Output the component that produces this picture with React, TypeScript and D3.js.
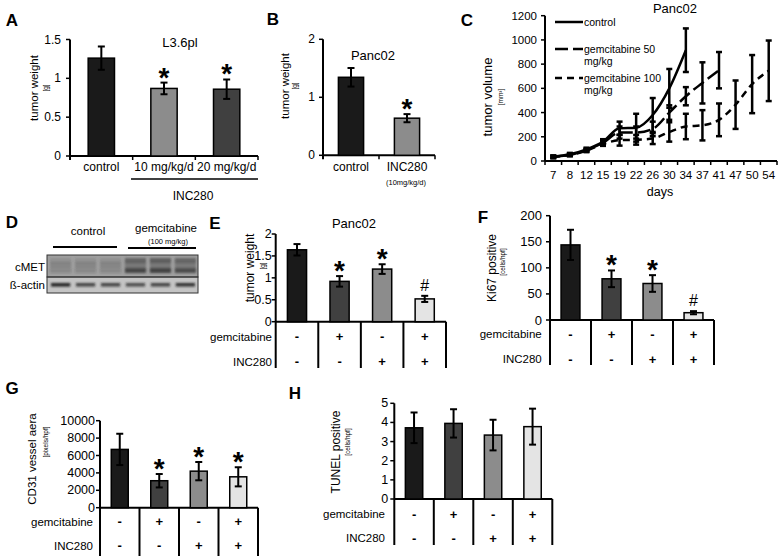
import React from "react";
import * as d3 from "d3";

const FONT = "'Liberation Sans', Arial, Helvetica, sans-serif";

// ---------- Panel A ----------
const aCategories = ["control", "10 mg/kg/d", "20 mg/kg/d"];
const aValues = [1.26, 0.87, 0.86];
const aErrors = [0.15, 0.075, 0.125];
const aMarks = ["", "*", "*"];
const aTicks = [0, 0.5, 1, 1.5];
const aColors = ["#1a1a1a", "#8c8c8c", "#404040"];

// ---------- Panel B ----------
const bCategories = ["control", "INC280"];
const bValues = [1.345, 0.64];
const bErrors = [0.16, 0.07];
const bMarks = ["", "*"];
const bTicks = [0, 1, 2];
const bColors = ["#1a1a1a", "#8c8c8c"];

// ---------- Panel C ----------
const cDays = ["7", "8", "12", "15", "19", "22", "26", "30", "34", "37", "41", "47", "50", "54"];
const cTicks = [0, 200, 400, 600, 800, 1000, 1200];
const cControl = [35, 55, 95, 160, 270, 275, 380, 600, 915];
const cControlErr = [10, 12, 15, 20, 55, 115, 140, 160, 180];
const cGem50 = [35, 50, 90, 150, 235, 235, 265, 400, 535, 645, 750];
const cGem50Err = [10, 10, 12, 15, 50, 50, 60, 60, 75, 170, 150];
const cGem100 = [33, 50, 85, 140, 172, 175, 185, 240, 285, 295, 340, 465, 635, 745];
const cGem100Err = [10, 10, 12, 15, 45, 40, 45, 80, 105, 125, 135, 200, 240, 250];
const cSeriesNames = ["control", "gemcitabine 50", "gemcitabine 100"];

// ---------- Panel D (blot lanes) ----------
const dLanes = ["c1", "c2", "c3", "g1", "g2", "g3"];
const dCmet = [0.2, 0.2, 0.2, 0.75, 0.8, 0.7];
const dActin = [0.95, 0.75, 0.75, 0.7, 0.75, 0.85];

// ---------- Treatment table (E–H) ----------
const treatGroups = ["g1", "g2", "g3", "g4"];
const gemcitabineRow = ["-", "+", "-", "+"];
const inc280Row = ["-", "-", "+", "+"];
const treatColors = ["#1a1a1a", "#404040", "#8c8c8c", "#e4e4e4"];

// E
const eValues = [1.64, 0.92, 1.2, 0.52];
const eErrors = [0.13, 0.12, 0.11, 0.07];
const eMarks = ["", "*", "*", "#"];
const eTicks = [0, 0.5, 1, 1.5, 2];
// F
const fValues = [144, 79, 70, 14];
const fErrors = [29, 16, 16, 3];
const fMarks = ["", "*", "*", "#"];
const fTicks = [0, 50, 100, 150, 200];
// G
const gValues = [6700, 3100, 4200, 3550];
const gErrors = [1800, 770, 1050, 1100];
const gMarks = ["", "*", "*", "*"];
const gTicks = [0, 2000, 4000, 6000, 8000, 10000];
// H
const hValues = [3.72, 3.95, 3.34, 3.78];
const hErrors = [0.8, 0.74, 0.8, 0.94];
const hMarks = ["", "", "", ""];
const hTicks = [0, 1, 2, 3, 4, 5];

type BarCfg = {
  x0: number; x1: number; y0: number; yTop: number; max: number;
  ticks: number[]; cats: string[]; values: number[]; errors: number[];
  colors: string[]; marks: string[]; barFrac: number; tickFont: number;
  tickGap: number; tableBottom?: number;
};

function Mark({ m, cx, top }: { m: string; cx: number; top: number }) {
  if (!m) return null;
  if (m === "*") {
    return (
      <text x={cx} y={top - 11 + 15} textAnchor="middle" fontSize={28} fontWeight="bold" fontFamily={FONT}>*</text>
    );
  }
  return (
    <text x={cx} y={top - 5} textAnchor="middle" fontSize={16} fontFamily={FONT}>{m}</text>
  );
}

function BarPanel(c: BarCfg) {
  const y = d3.scaleLinear().domain([0, c.max]).range([c.y0, c.yTop]);
  const x = d3.scaleBand<string>().domain(c.cats).range([c.x0, c.x1]);
  const bw = x.bandwidth();
  const w = bw * c.barFrac;
  const bottom = c.tableBottom ?? c.y0 + 4;
  return (
    <g>
      <line x1={c.x0} x2={c.x0} y1={c.yTop} y2={c.tableBottom ?? c.y0 + 4} stroke="#000" strokeWidth={2} />
      <line x1={c.x0} x2={c.x1} y1={c.y0} y2={c.y0} stroke="#000" strokeWidth={2} />
      {c.ticks.map((t) => (
        <g key={t}>
          <line x1={c.x0 - 4} x2={c.x0} y1={y(t)} y2={y(t)} stroke="#000" strokeWidth={1.5} />
          <text x={c.x0 - c.tickGap} y={y(t)} dominantBaseline="central" textAnchor="end" fontSize={c.tickFont} fontFamily={FONT}>{String(t)}</text>
        </g>
      ))}
      {c.cats.map((k) => (
        <line key={"s" + k} x1={x(k)! + bw} x2={x(k)! + bw} y1={c.y0} y2={bottom} stroke="#000" strokeWidth={c.tableBottom ? 2 : 1.5} />
      ))}
      {c.cats.map((k, i) => {
        const cx = x(k)! + bw / 2;
        const v = c.values[i];
        const e = c.errors[i];
        return (
          <g key={"b" + k}>
            <rect x={cx - w / 2} y={y(v)} width={w} height={c.y0 - y(v)} fill={c.colors[i]} stroke="#000" strokeWidth={1.5} />
            <line x1={cx} x2={cx} y1={y(v + e)} y2={y(v - e)} stroke="#000" strokeWidth={2} />
            <line x1={cx - 3.5} x2={cx + 3.5} y1={y(v + e)} y2={y(v + e)} stroke="#000" strokeWidth={2} />
            <line x1={cx - 3.5} x2={cx + 3.5} y1={y(v - e)} y2={y(v - e)} stroke="#000" strokeWidth={2} />
            <Mark m={c.marks[i]} cx={cx} top={y(v + e)} />
          </g>
        );
      })}
    </g>
  );
}

function TableRows({ x0, x1, labelX, rowY }: { x0: number; x1: number; labelX: number; rowY: number[] }) {
  const x = d3.scaleBand<string>().domain(treatGroups).range([x0, x1]);
  const bw = x.bandwidth();
  const rows = [gemcitabineRow, inc280Row];
  const names = ["gemcitabine", "INC280"];
  return (
    <g fontFamily={FONT}>
      {rows.map((r, ri) => (
        <g key={ri}>
          <text x={labelX} y={rowY[ri]} textAnchor="end" dominantBaseline="central" fontSize={11.5}>{names[ri]}</text>
          {treatGroups.map((g, i) => (
            <text key={g} x={x(g)! + bw / 2} y={rowY[ri]} textAnchor="middle" dominantBaseline="central" fontSize={13} fontWeight="bold">{r[i]}</text>
          ))}
        </g>
      ))}
    </g>
  );
}

function YLabel({ x, y, text, sub, subX, subY, size = 12 }: { x: number; y: number; text: string; sub: string; subX: number; subY: number; size?: number }) {
  return (
    <g fontFamily={FONT}>
      <text transform={`translate(${x},${y}) rotate(-90)`} textAnchor="middle" dominantBaseline="central" fontSize={size}>{text}</text>
      <text transform={`translate(${subX},${subY}) rotate(-90)`} textAnchor="middle" dominantBaseline="central" fontSize={6.5}>{sub}</text>
    </g>
  );
}

function Letter({ x, y, t }: { x: number; y: number; t: string }) {
  return <text x={x} y={y} textAnchor="middle" dominantBaseline="central" fontSize={17} fontWeight="bold" fontFamily={FONT}>{t}</text>;
}

function PanelC() {
  const x0 = 545, x1 = 777, y0 = 161, yTop = 15.7;
  const y = d3.scaleLinear().domain([0, 1200]).range([y0, yTop]);
  const x = d3.scaleBand<string>().domain(cDays).range([x0, x1]);
  const bw = x.bandwidth();
  const cx = (i: number) => x(cDays[i])! + bw / 2;
  const series = [
    { v: cControl, e: cControlErr, dash: undefined as string | undefined },
    { v: cGem50, e: cGem50Err, dash: "13,5" },
    { v: cGem100, e: cGem100Err, dash: "7,5" },
  ];
  const line = (vals: number[]) =>
    d3.line<number>().x((_, i) => cx(i)).y((d) => y(d)).curve(d3.curveMonotoneX)(vals) ?? "";
  const legendY = [22, 49, 78];
  return (
    <g fontFamily={FONT}>
      <text x={675} y={8} textAnchor="middle" dominantBaseline="central" fontSize={13}>Panc02</text>
      <line x1={x0} x2={x0} y1={yTop} y2={y0} stroke="#000" strokeWidth={2} />
      <line x1={x0} x2={x1} y1={y0} y2={y0} stroke="#000" strokeWidth={2} />
      {cTicks.map((t) => (
        <g key={t}>
          <line x1={x0 - 4} x2={x0} y1={y(t)} y2={y(t)} stroke="#000" strokeWidth={1.5} />
          <text x={x0 - 8} y={y(t)} textAnchor="end" dominantBaseline="central" fontSize={11.5}>{String(t)}</text>
        </g>
      ))}
      {cDays.map((d, i) => (
        <g key={d}>
          <line x1={x(d)!} x2={x(d)!} y1={y0} y2={y0 + 4} stroke="#000" strokeWidth={1.5} />
          <text x={cx(i)} y={175} textAnchor="middle" dominantBaseline="central" fontSize={11.5}>{d}</text>
        </g>
      ))}
      <line x1={x1} x2={x1} y1={y0} y2={y0 + 4} stroke="#000" strokeWidth={1.5} />
      <text x={660} y={192} textAnchor="middle" dominantBaseline="central" fontSize={12.5}>days</text>
      {series.map((s, si) => (
        <g key={si}>
          {s.v.map((v, i) => (
            <g key={i}>
              <line x1={cx(i)} x2={cx(i)} y1={y(v + s.e[i])} y2={y(Math.max(0, v - s.e[i]))} stroke="#000" strokeWidth={2.5} />
              <line x1={cx(i) - 3} x2={cx(i) + 3} y1={y(v + s.e[i])} y2={y(v + s.e[i])} stroke="#000" strokeWidth={2.5} />
              <line x1={cx(i) - 3} x2={cx(i) + 3} y1={y(Math.max(0, v - s.e[i]))} y2={y(Math.max(0, v - s.e[i]))} stroke="#000" strokeWidth={2.5} />
            </g>
          ))}
          <path d={line(s.v)} fill="none" stroke="#000" strokeWidth={2.5} strokeDasharray={s.dash} />
        </g>
      ))}
      {series.map((s, si) => (
        <line key={"l" + si} x1={555} x2={583} y1={legendY[si]} y2={legendY[si]} stroke="#000" strokeWidth={2.5} strokeDasharray={s.dash} />
      ))}
      <text x={584} y={legendY[0]} dominantBaseline="central" fontSize={10.5}>{cSeriesNames[0]}</text>
      <text x={584} y={legendY[1]} dominantBaseline="central" fontSize={10.5}>{cSeriesNames[1]}</text>
      <text x={584} y={legendY[1] + 12} dominantBaseline="central" fontSize={10.5}>mg/kg</text>
      <text x={584} y={legendY[2]} dominantBaseline="central" fontSize={10.5}>{cSeriesNames[2]}</text>
      <text x={584} y={legendY[2] + 12} dominantBaseline="central" fontSize={10.5}>mg/kg</text>
      <YLabel x={487} y={97} text="tumor volume" sub="[mm³]" subX={500} subY={97} size={13} />
    </g>
  );
}

function PanelD() {
  const lx = d3.scaleBand<string>().domain(dLanes).range([50, 196]).paddingInner(0.15);
  const bw = lx.bandwidth();
  return (
    <g fontFamily={FONT}>
      <defs>
        <filter id="blur1" x="-20%" y="-50%" width="140%" height="200%">
          <feGaussianBlur stdDeviation="1.2" />
        </filter>
      </defs>
      <text x={88} y={231} textAnchor="middle" dominantBaseline="central" fontSize={11.5}>control</text>
      <line x1={53} x2={117} y1={247} y2={247} stroke="#000" strokeWidth={2} />
      <text x={166} y={228} textAnchor="middle" dominantBaseline="central" fontSize={11.5}>gemcitabine</text>
      <text x={168} y={241} textAnchor="middle" dominantBaseline="central" fontSize={7.5}>(100 mg/kg)</text>
      <line x1={128} x2={196} y1={248} y2={248} stroke="#000" strokeWidth={2} />
      <rect x={47} y={255} width={151} height={22} fill="#a0a0a0" />
      <rect x={47} y={277} width={151} height={16} fill="#c4c4c4" />
      {dLanes.map((l, i) => {
        const cx = lx(l)! + bw / 2;
        return (
          <g key={l} filter="url(#blur1)">
            <rect x={cx - bw / 2} y={258} width={bw} height={5} fill="#3a3a3a" opacity={dCmet[i] * 0.8} />
            <rect x={cx - bw / 2} y={268} width={bw} height={5} fill="#2a2a2a" opacity={dCmet[i]} />
            <rect x={cx - bw / 2} y={262} width={bw} height={6} fill="#555" opacity={0.3 + dCmet[i] * 0.3} />
            <rect x={cx - bw / 2 + 1} y={283} width={bw - 2} height={3.5} fill="#1a1a1a" opacity={dActin[i]} />
          </g>
        );
      })}
      <rect x={47} y={255} width={151} height={22} fill="none" stroke="#333" strokeWidth={1} />
      <rect x={47} y={277} width={151} height={16} fill="none" stroke="#333" strokeWidth={1} />
      <text x={45} y={267} textAnchor="end" dominantBaseline="central" fontSize={11.5}>cMET</text>
      <text x={45} y={285} textAnchor="end" dominantBaseline="central" fontSize={11.5}>ß-actin</text>
    </g>
  );
}

export default function App() {
  const ax = d3.scaleBand<string>().domain(aCategories).range([70, 258]);
  const bx = d3.scaleBand<string>().domain(bCategories).range([323, 435]);
  return (
    <svg width={778} height={556} style={{ position: "absolute", left: 0, top: 0, background: "#fff" }} fontFamily={FONT}>
      <rect width={778} height={556} fill="#fff" />
      {/* A */}
      <Letter x={12} y={20} t="A" />
      <text x={180} y={42} textAnchor="middle" dominantBaseline="central" fontSize={13} fontFamily={FONT}>L3.6pl</text>
      <BarPanel x0={70} x1={258} y0={156} yTop={39.5} max={1.5} ticks={aTicks} cats={aCategories}
        values={aValues} errors={aErrors} colors={aColors} marks={aMarks} barFrac={0.42} tickFont={12} tickGap={9} />
      {aCategories.map((k) => (
        <text key={k} x={ax(k)! + ax.bandwidth() / 2} y={167} textAnchor="middle" dominantBaseline="central" fontSize={12} fontFamily={FONT}>{k}</text>
      ))}
      <line x1={131} x2={258} y1={179} y2={179} stroke="#000" strokeWidth={1.5} />
      <text x={193} y={196} textAnchor="middle" dominantBaseline="central" fontSize={12} fontFamily={FONT}>INC280</text>
      <YLabel x={34} y={88} text="tumor weight" sub="[g]" subX={45} subY={88} size={11.5} />

      {/* B */}
      <Letter x={273} y={19} t="B" />
      <text x={373} y={55} textAnchor="middle" dominantBaseline="central" fontSize={13} fontFamily={FONT}>Panc02</text>
      <BarPanel x0={323} x1={435} y0={155.3} yTop={39.3} max={2} ticks={bTicks} cats={bCategories}
        values={bValues} errors={bErrors} colors={bColors} marks={bMarks} barFrac={0.45} tickFont={12} tickGap={8} />
      {bCategories.map((k) => (
        <text key={k} x={bx(k)! + bx.bandwidth() / 2} y={167} textAnchor="middle" dominantBaseline="central" fontSize={12} fontFamily={FONT}>{k}</text>
      ))}
      <text x={406} y={182} textAnchor="middle" dominantBaseline="central" fontSize={7.5} fontFamily={FONT}>(10mg/kg/d)</text>
      <YLabel x={285} y={86} text="tumor weight" sub="[g]" subX={294} subY={86} size={11.5} />

      {/* C */}
      <Letter x={467} y={20} t="C" />
      <PanelC />

      {/* D */}
      <Letter x={12} y={222} t="D" />
      <PanelD />

      {/* E */}
      <Letter x={215} y={223} t="E" />
      <text x={354} y={223} textAnchor="middle" dominantBaseline="central" fontSize={13} fontFamily={FONT}>Panc02</text>
      <BarPanel x0={275.7} x1={446} y0={321.7} yTop={234} max={2} ticks={eTicks} cats={treatGroups}
        values={eValues} errors={eErrors} colors={treatColors} marks={eMarks} barFrac={0.45} tickFont={12.5} tickGap={4} tableBottom={368} />
      <TableRows x0={275.7} x1={446} labelX={272} rowY={[336.7, 361.7]} />
      <YLabel x={250} y={268} text="tumor weight" sub="[g]" subX={262} subY={266} size={12} />

      {/* F */}
      <Letter x={483} y={217} t="F" />
      <BarPanel x0={550} x1={714} y0={320} yTop={215.7} max={200} ticks={fTicks} cats={treatGroups}
        values={fValues} errors={fErrors} colors={treatColors} marks={fMarks} barFrac={0.46} tickFont={13} tickGap={8} tableBottom={365} />
      <TableRows x0={550} x1={714} labelX={541.7} rowY={[334, 359]} />
      <YLabel x={492} y={268} text="Ki67 positive" sub="[cells/hpf]" subX={502} subY={262} size={12} />

      {/* G */}
      <Letter x={12} y={388} t="G" />
      <BarPanel x0={100} x1={258} y0={507.7} yTop={420.7} max={10000} ticks={gTicks} cats={treatGroups}
        values={gValues} errors={gErrors} colors={treatColors} marks={gMarks} barFrac={0.43} tickFont={12.5} tickGap={5} tableBottom={556} />
      <TableRows x0={100} x1={258} labelX={93} rowY={[521.7, 545.7]} />
      <YLabel x={32} y={459} text="CD31 vessel aera" sub="[pixels/hpf]" subX={45} subY={442} size={11.5} />

      {/* H */}
      <Letter x={295} y={393} t="H" />
      <BarPanel x0={394.3} x1={552.3} y0={499} yTop={403.3} max={5} ticks={hTicks} cats={treatGroups}
        values={hValues} errors={hErrors} colors={treatColors} marks={hMarks} barFrac={0.44} tickFont={12.5} tickGap={6} tableBottom={545} />
      <TableRows x0={394.3} x1={552.3} labelX={385} rowY={[514, 538]} />
      <YLabel x={336} y={452} text="TUNEL positive" sub="[cells/hpf]" subX={347} subY={442} size={12} />
    </svg>
  );
}
